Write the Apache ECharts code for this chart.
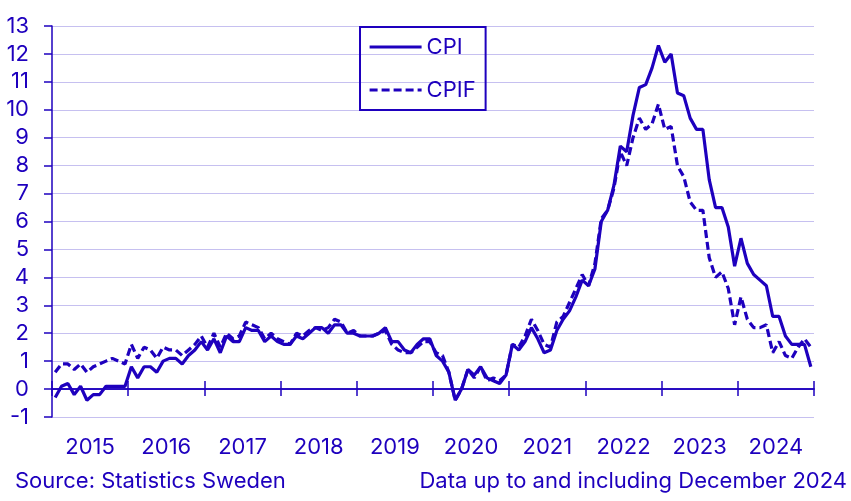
<!DOCTYPE html>
<html>
<head>
<meta charset="utf-8">
<script src="https://cdn.jsdelivr.net/npm/echarts@6/dist/echarts.min.js"></script>
<style>
html,body{margin:0;padding:0;background:#fff;}
#c{width:851px;height:501px;}
</style>
</head>
<body>
<div id="c"></div>
<script>
const years = ['2015','2016','2017','2018','2019','2020','2021','2022','2023','2024'];
const monthNames = ['Jan','Feb','Mar','Apr','May','Jun','Jul','Aug','Sep','Oct','Nov','Dec'];
const yTicks = {min: -1, max: 13, interval: 1};

const cpi = [
  -0.3, 0.1, 0.2, -0.2, 0.1, -0.4, -0.2, -0.2, 0.1, 0.1, 0.1, 0.1,
  0.8, 0.4, 0.8, 0.8, 0.6, 1.0, 1.1, 1.1, 0.9, 1.2, 1.4, 1.7,
  1.4, 1.8, 1.3, 1.9, 1.7, 1.7, 2.2, 2.1, 2.1, 1.7, 1.9, 1.7,
  1.6, 1.6, 1.9, 1.8, 2.0, 2.2, 2.2, 2.0, 2.3, 2.3, 2.0, 2.0,
  1.9, 1.9, 1.9, 2.0, 2.2, 1.7, 1.7, 1.4, 1.3, 1.6, 1.8, 1.8,
  1.2, 1.0, 0.6, -0.4, 0.0, 0.7, 0.5, 0.8, 0.4, 0.3, 0.2, 0.5,
  1.6, 1.4, 1.7, 2.2, 1.8, 1.3, 1.4, 2.1, 2.5, 2.8, 3.3, 3.9,
  3.7, 4.3, 6.0, 6.4, 7.3, 8.7, 8.5, 9.8, 10.8, 10.9, 11.5, 12.3,
  11.7, 12.0, 10.6, 10.5, 9.7, 9.3, 9.3, 7.5, 6.5, 6.5, 5.8, 4.4,
  5.4, 4.5, 4.1, 3.9, 3.7, 2.6, 2.6, 1.9, 1.6, 1.6, 1.6, 0.8
];
const cpif = [
  0.6, 0.9, 0.9, 0.7, 0.9, 0.6, 0.8, 0.9, 1.0, 1.1, 1.0, 0.9,
  1.6, 1.1, 1.5, 1.4, 1.1, 1.5, 1.4, 1.4, 1.2, 1.4, 1.6, 1.9,
  1.5, 2.0, 1.5, 2.0, 1.8, 1.9, 2.4, 2.3, 2.2, 1.8, 2.0, 1.8,
  1.7, 1.6, 2.0, 1.9, 2.1, 2.2, 2.1, 2.2, 2.5, 2.4, 2.0, 2.1,
  1.9, 1.9, 1.9, 2.0, 2.1, 1.6, 1.4, 1.3, 1.3, 1.5, 1.7, 1.7,
  1.3, 1.2, 0.6, -0.4, 0.0, 0.7, 0.4, 0.8, 0.3, 0.4, 0.3, 0.5,
  1.6, 1.5, 1.9, 2.5, 2.1, 1.6, 1.5, 2.4, 2.6, 3.1, 3.6, 4.1,
  3.7, 4.5, 6.1, 6.4, 7.2, 8.5, 8.0, 9.0, 9.7, 9.3, 9.5, 10.2,
  9.3, 9.4, 8.0, 7.6, 6.7, 6.4, 6.4, 4.7, 4.0, 4.2, 3.6, 2.3,
  3.3, 2.5, 2.2, 2.2, 2.3, 1.3, 1.7, 1.2, 1.1, 1.5, 1.8, 1.5
];

const months = [];
years.forEach(y => monthNames.forEach(m => months.push(m + ' ' + y)));

const C = '#1e00be';
const GRID = '#c6c0f0';
const FONT = 'Inter';

const chart = echarts.init(document.getElementById('c'), null, {renderer: 'canvas'});
chart.setOption({
  animation: false,
  backgroundColor: '#fff',
  textStyle: {fontFamily: FONT, color: C},
  grid: {left: 52, right: 37, top: 26, bottom: 84, containLabel: false},
  legend: {
    orient: 'vertical',
    left: 360, top: 27,
    padding: [9, 10, 9, 8],
    borderColor: C, borderWidth: 2,
    itemWidth: 52, itemHeight: 22, itemGap: 21,
    itemStyle: {color: 'transparent', borderWidth: 0, opacity: 0},
    lineStyle: {width: 3.2},
    textStyle: {fontFamily: FONT, fontSize: 22, color: C},
    data: ['CPI', 'CPIF']
  },
  xAxis: [
    {type: 'category', data: months, boundaryGap: true, show: false,
      axisLine: {onZero: false}},
    {type: 'category', data: years, boundaryGap: true, position: 'bottom',
      axisLine: {show: false, onZero: false}, axisTick: {show: false},
      axisLabel: {margin: 19, fontSize: 22, color: C, fontFamily: FONT}},
    {type: 'category', data: years, boundaryGap: true, position: 'bottom',
      axisLine: {show: true, onZero: true, onZeroAxisIndex: 0, lineStyle: {color: C, width: 1.5}},
      axisTick: {show: true, inside: true, length: 8, lineStyle: {color: C, width: 1.5}},
      axisLabel: {show: false}},
    {type: 'category', data: years, boundaryGap: true, position: 'bottom',
      axisLine: {show: true, onZero: true, onZeroAxisIndex: 0, lineStyle: {color: C, width: 1.5}},
      axisTick: {show: true, inside: false, length: 7, lineStyle: {color: C, width: 1.5}},
      axisLabel: {show: false}}
  ],
  yAxis: {
    type: 'value', min: yTicks.min, max: yTicks.max, interval: yTicks.interval,
    axisLine: {show: true, onZero: false, lineStyle: {color: C, width: 1.5}},
    axisTick: {show: true, length: 8, lineStyle: {color: C, width: 1.5}},
    axisLabel: {margin: 23, fontSize: 22, color: C, fontFamily: FONT},
    splitLine: {show: true, lineStyle: {color: GRID, width: 1}}
  },
  series: [
    {name: 'CPIF', type: 'line', xAxisIndex: 0, data: cpif, symbol: 'none', showSymbol: false,
      lineStyle: {color: C, width: 3.2, type: [8, 4]}, itemStyle: {color: C}, z: 2},
    {name: 'CPI', type: 'line', xAxisIndex: 0, data: cpi, symbol: 'none', showSymbol: false,
      lineStyle: {color: C, width: 3.2}, itemStyle: {color: C}, z: 3}
  ],
  graphic: [
    {type: 'text', left: 15, top: 470, style: {text: 'Source: Statistics Sweden', font: '22px ' + FONT, fill: C}},
    {type: 'text', right: 4, top: 470, style: {text: 'Data up to and including December 2024', font: '22px ' + FONT, fill: C}}
  ]
});
</script>
</body>
</html>
